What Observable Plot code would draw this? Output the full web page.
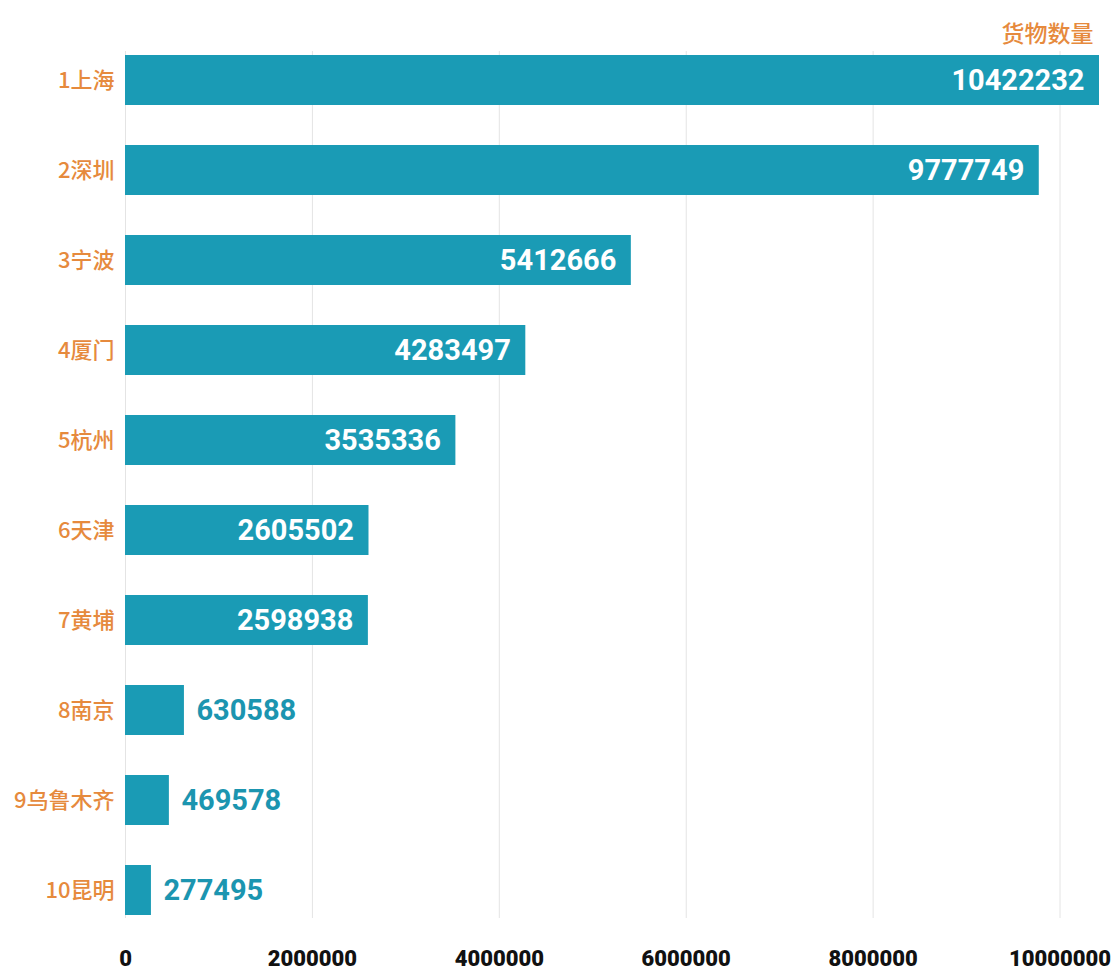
<!DOCTYPE html>
<html>
<head>
<meta charset="utf-8">
<script src="https://cdn.jsdelivr.net/npm/d3@7"></script>
<script src="https://cdn.jsdelivr.net/npm/@observablehq/plot@0.6"></script>
<style>
  body { margin: 0; background: #fff; }
  #chart svg { display: block; }
</style>
</head>
<body>
<div id="chart"></div>
<script>
const cities = ["1上海", "2深圳", "3宁波", "4厦门", "5杭州", "6天津", "7黄埔", "8南京", "9乌鲁木齐", "10昆明"];
const values = [10422232, 9777749, 5412666, 4283497, 3535336, 2605502, 2598938, 630588, 469578, 277495];
const xTicks = [0, 2000000, 4000000, 6000000, 8000000, 10000000];
const unitLabel = "货物数量";

const data = cities.map((c, i) => ({city: c, value: values[i]}));
const threshold = 1500000;
const teal = "#1a9bb5";
const orange = "#e68a3d";

const chart = Plot.plot({
  width: 1119,
  height: 976,
  marginLeft: 125,
  marginRight: 20,
  marginTop: 51,
  marginBottom: 58,
  style: {fontFamily: "Roboto, 'Noto Sans CJK SC', sans-serif", background: "#fff"},
  x: {domain: [0, 10422232], axis: null},
  y: {domain: cities, paddingInner: 0.45, paddingOuter: 0, axis: null},
  marks: [
    Plot.gridX(xTicks, {stroke: "#e4e4e4", strokeOpacity: 1, strokeWidth: 1}),
    Plot.axisX(xTicks, {
      tickSize: 0, tickPadding: 32, fontSize: 22, fontWeight: 900, fill: "#111",
      tickFormat: d => String(d), label: null
    }),
    Plot.axisY({
      tickSize: 0, tickPadding: 11, fontSize: 22, fontWeight: 500,
      fill: orange, label: null,
      fontFamily: "'Noto Sans CJK SC', sans-serif"
    }),
    Plot.barX(data, {x: "value", y: "city", fill: teal}),
    Plot.text(data.filter(d => d.value >= threshold), {
      x: "value", y: "city", text: d => String(d.value),
      textAnchor: "end", dx: -15, fill: "#fff", fontSize: 29, fontWeight: "bold"
    }),
    Plot.text(data.filter(d => d.value < threshold), {
      x: "value", y: "city", text: d => String(d.value),
      textAnchor: "start", dx: 12, fill: "#1b95b0", fontSize: 29, fontWeight: "bold"
    }),
    Plot.text([unitLabel], {
      frameAnchor: "top-right", text: d => d, dy: -26, dx: -6,
      textAnchor: "end", fill: orange, fontSize: 23, fontWeight: 500,
      fontFamily: "'Noto Sans CJK SC', sans-serif"
    })
  ]
});
document.getElementById("chart").append(chart);
</script>
</body>
</html>
